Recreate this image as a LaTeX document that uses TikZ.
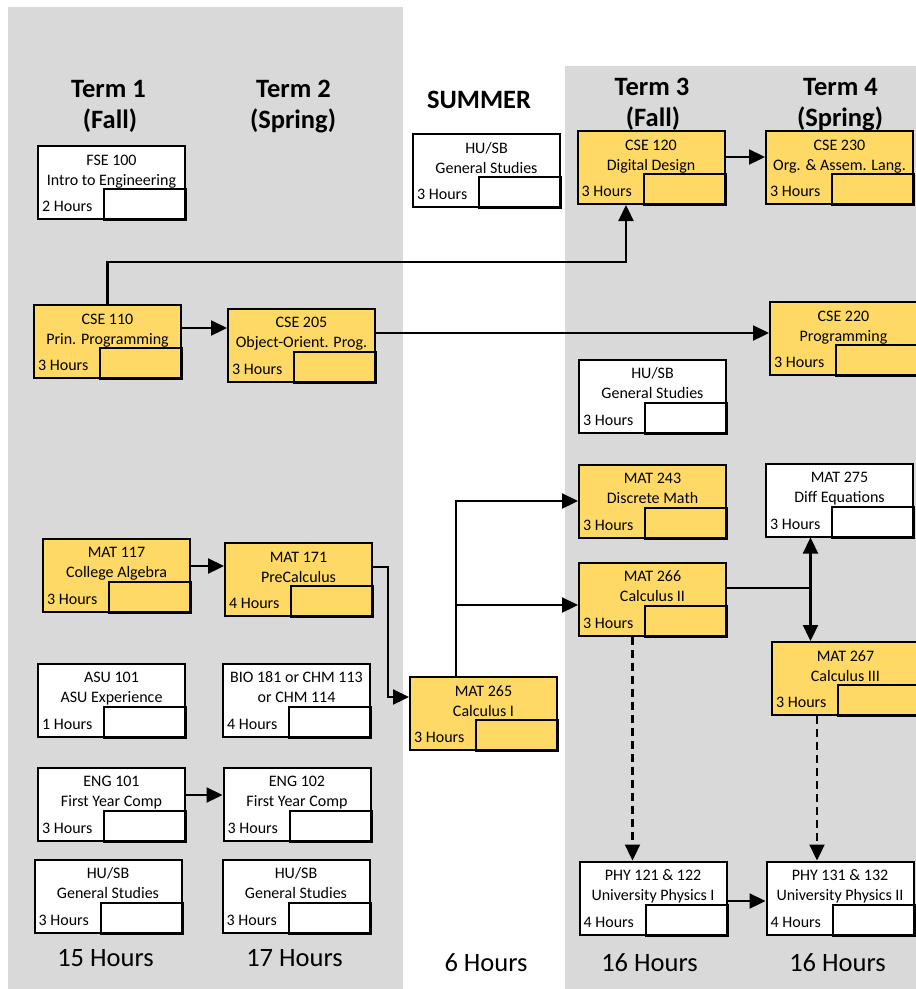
\documentclass[tikz,border=0pt]{standalone}
\usepackage{fontspec}
\setmainfont{Carlito}
\usetikzlibrary{arrows.meta,positioning}
\definecolor{gold}{HTML}{FFD966}
\definecolor{panel}{HTML}{D9D9D9}
\newcommand{\course}[6]{%
  \node [course, fill=#6] (#1) at (#2) {};
  \node [coursetext] at ([yshift=-20pt]#1.north) {#3};
  \node [coursetext] at ([yshift=-40pt]#1.north) {#4};
  \draw [line width=2pt] (#1.south east) rectangle ++(-82,31);
  \node [coursetext, anchor=base west] at ([xshift=5pt,yshift=8.5pt]#1.south west) {#5};
}

\begin{document}
\begin{tikzpicture}[x=1pt,y=1pt]
\tikzstyle{every node}+=[inner sep=0pt]
\tikzstyle{course}=[draw, line width=2pt, minimum width=147pt, minimum height=73pt]
\tikzstyle{coursetext}=[anchor=base, font=\fontsize{16}{19}\selectfont]
\tikzstyle{head}=[anchor=base, font=\fontsize{26.5}{30}\selectfont\bfseries]
\tikzstyle{total}=[anchor=base, font=\fontsize{26.5}{30}\selectfont]
\tikzstyle{arr}=[line width=2.3pt, -{Triangle[length=16pt,width=15pt]}]
\tikzstyle{soft}=[dash pattern=on 8pt off 5pt]
\useasboundingbox (0,0) rectangle (916,-989);
\fill [panel] (8,-7) rectangle (403,-989);
\fill [panel] (565,-66) rectangle (916,-989);
\node [head] (t1) at (108.5,-97) {Term 1};
\node [head] (t1s) at (110,-128) {(Fall)};
\node [head] (t2) at (293.5,-97) {Term 2};
\node [head] (t2s) at (293,-128) {(Spring)};
\node [head] (sum) at (479,-108) {SUMMER};
\node [head] (t3) at (652,-95) {Term 3};
\node [head] (t3s) at (653,-126) {(Fall)};
\node [head] (t4) at (840.5,-95) {Term 4};
\node [head] (t4s) at (840,-126) {(Spring)};
\course{fse100}{111.5,-182.5}{FSE 100}{Intro to Engineering}{2 Hours}{white}
\course{cse110}{107.5,-341.5}{CSE 110}{Prin. Programming}{3 Hours}{gold}
\course{mat117}{116.5,-575}{MAT 117}{College Algebra}{3 Hours}{gold}
\course{asu101}{111.5,-700}{ASU 101}{ASU Experience}{1 Hours}{white}
\course{eng101}{111.5,-804}{ENG 101}{First Year Comp}{3 Hours}{white}
\course{husb1}{108,-896}{HU/SB}{General Studies}{3 Hours}{white}
\course{cse205}{301.5,-345}{CSE 205}{Object-Orient. Prog.}{3 Hours}{gold}
\course{mat171}{298.5,-579.5}{MAT 171}{PreCalculus}{4 Hours}{gold}
\course{bio181}{296.5,-700}{BIO 181 or CHM 113}{or CHM 114}{4 Hours}{white}
\course{eng102}{297,-804}{ENG 102}{First Year Comp}{3 Hours}{white}
\course{husb2}{296,-896}{HU/SB}{General Studies}{3 Hours}{white}
\course{husb0}{486.5,-170.5}{HU/SB}{General Studies}{3 Hours}{white}
\course{mat265}{483.5,-713.5}{MAT 265}{Calculus I}{3 Hours}{gold}
\course{cse120}{651,-167.5}{CSE 120}{Digital Design}{3 Hours}{gold}
\course{husb3}{652.5,-396}{HU/SB}{General Studies}{3 Hours}{white}
\course{mat243}{652.5,-501}{MAT 243}{Discrete Math}{3 Hours}{gold}
\course{mat266}{652.5,-599}{MAT 266}{Calculus II}{3 Hours}{gold}
\course{phy121}{653,-898}{PHY 121 \& 122}{University Physics I}{4 Hours}{white}
\course{cse230}{839.5,-167.5}{CSE 230}{Org. \& Assem. Lang.}{3 Hours}{gold}
\course{cse220}{843.5,-338.5}{CSE 220}{Programming}{3 Hours}{gold}
\course{mat275}{839.5,-500}{MAT 275}{Diff Equations}{3 Hours}{white}
\course{mat267}{845.5,-678.5}{MAT 267}{Calculus III}{3 Hours}{gold}
\course{phy131}{840,-898}{PHY 131 \& 132}{University Physics II}{4 Hours}{white}
\node [total] (h1) at (105.5,-966) {15 Hours};
\node [total] (h2) at (294.5,-966) {17 Hours};
\node [total] (h0) at (486,-971) {6 Hours};
\node [total] (h3) at (649.5,-971) {16 Hours};
\node [total] (h4) at (837.5,-971) {16 Hours};
\draw [arr] (cse110.north) -- ++(0,42) -| ([xshift=-25pt]cse120.south);
\draw [arr] ([yshift=13.5pt]cse110.east) -- ([yshift=13.5pt]cse110.east -| cse205.west);
\draw [arr] ([yshift=12pt]cse205.east) -- ([yshift=12pt]cse205.east -| cse220.west);
\draw [arr] ([yshift=10.5pt]cse120.east) -- ([yshift=10.5pt]cse120.east -| cse230.west);
\draw [arr] ([yshift=9pt]mat117.east) -- ([yshift=9pt]mat117.east -| mat171.west);
\draw [arr] ([yshift=12.5pt]mat171.east) -- ++(15,0) |- ([yshift=16.5pt]mat265.west);
\draw [arr] ([xshift=-27.5pt]mat265.north) |- (mat243.west);
\draw [arr] ([xshift=-27.5pt]mat265.north) |- ([yshift=-6pt]mat266.west);
\draw [arr] ([yshift=11pt]mat266.east) -| ([xshift=-29pt]mat275.south);
\draw [arr] ([yshift=11pt]mat266.east) -| ([xshift=-35pt]mat267.north);
\draw [arr, soft] ([xshift=-20pt]mat266.south) -- ([xshift=-20pt]mat266.south |- phy121.north);
\draw [arr, soft] ([xshift=-28.5pt]mat267.south) -- ([xshift=-28.5pt]mat267.south |- phy131.north);
\draw [arr] ([yshift=-3pt]phy121.east) -- ([yshift=-3pt]phy121.east -| phy131.west);
\draw [arr] ([yshift=9pt]eng101.east) -- ([yshift=9pt]eng101.east -| eng102.west);
\end{tikzpicture}
\end{document}
